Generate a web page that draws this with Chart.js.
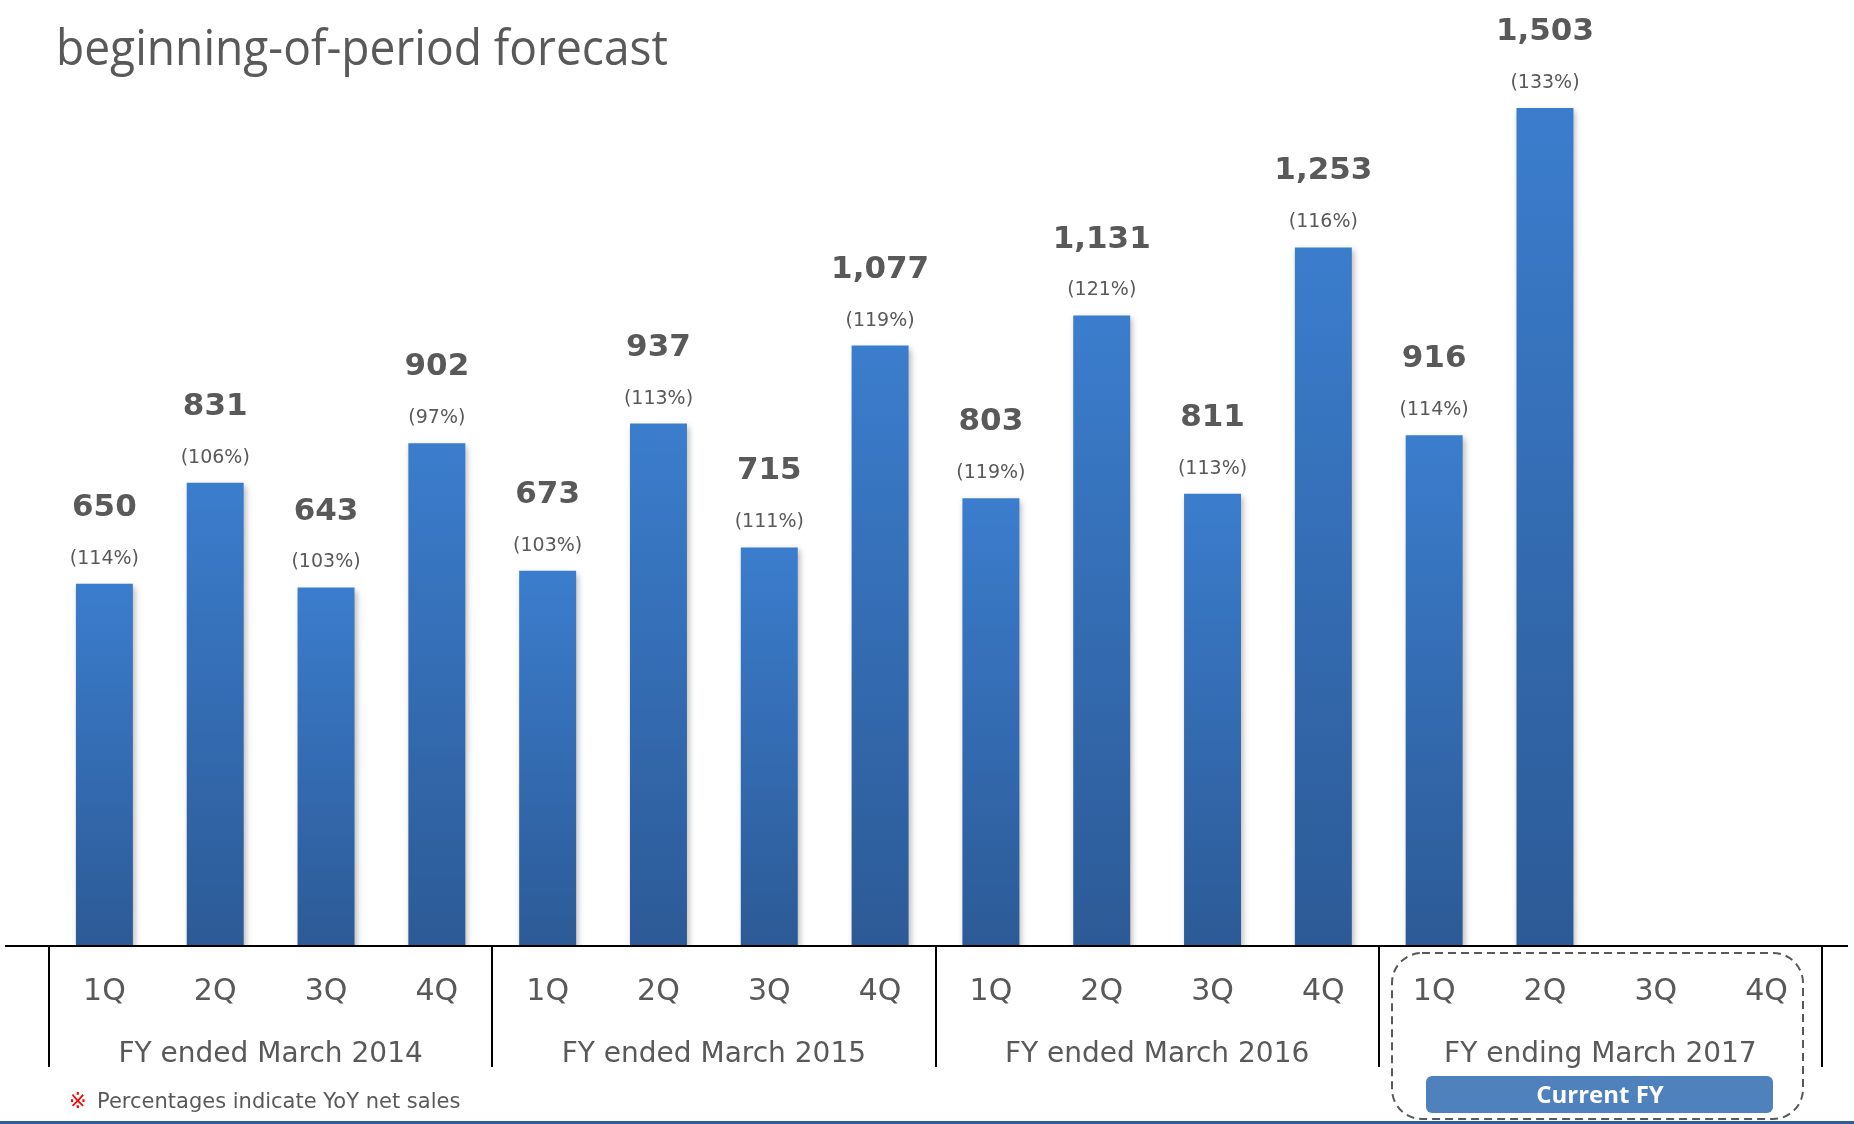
<!DOCTYPE html>
<html>
<head>
<meta charset="utf-8">
<script src="https://cdn.jsdelivr.net/npm/chart.js@4/dist/chart.umd.min.js"></script>
<style>
  html, body { margin: 0; padding: 0; background: #fff; }
  #wrap { width: 1854px; height: 1124px; position: relative; }
</style>
</head>
<body>
<div id="wrap"><canvas id="salesChart"></canvas></div>
<script>
// quarterly net sales (left to right), 3Q/4Q of FY2017 still open
var quarters = ['1Q', '2Q', '3Q', '4Q', '1Q', '2Q', '3Q', '4Q', '1Q', '2Q', '3Q', '4Q', '1Q', '2Q', '3Q', '4Q'];
var netSales = [650, 831, 643, 902, 673, 937, 715, 1077, 803, 1131, 811, 1253, 916, 1503, null, null];
var yoyPct   = [114, 106, 103, 97, 103, 113, 111, 119, 119, 121, 113, 116, 114, 133, null, null];
var fiscalYears = ['FY ended March 2014', 'FY ended March 2015', 'FY ended March 2016', 'FY ending March 2017'];

var grey = '#595959';

function barGradient(ctx) {
    var chart = ctx.chart;
    var v = ctx.raw;
    if (!chart.chartArea || v == null || !chart.scales.y) return '#3A7BCA';
    var y = chart.scales.y;
    var g = chart.ctx.createLinearGradient(0, y.getPixelForValue(v), 0, y.getPixelForValue(0));
    g.addColorStop(0, '#3B7DCD');
    g.addColorStop(1, '#2C5A96');
    return g;
}

var shadowPlugin = {
    id: 'barShadow',
    beforeDatasetsDraw: function (chart) {
        var c = chart.ctx;
        c.save();
        c.shadowColor = 'rgba(0,0,0,0.28)';
        c.shadowBlur = 6;
        c.shadowOffsetX = 2;
        c.shadowOffsetY = 3;
    },
    afterDatasetsDraw: function (chart) {
        chart.ctx.restore();
    }
};

var decoPlugin = {
    id: 'deco',
    afterDraw: function (chart) {
        var c = chart.ctx;
        var meta = chart.getDatasetMeta(0);
        var base = chart.scales.y.getPixelForValue(0);
        var xs = chart.scales.x;
        var step = xs.getPixelForValue(1) - xs.getPixelForValue(0);

        c.save();
        // title (second line, first line is cut off above)
        c.fillStyle = grey;
        c.font = '50px "Open Sans"';
        c.textBaseline = 'alphabetic';
        c.textAlign = 'left';
        var t = 'beginning-of-period forecast';
        var w = c.measureText(t).width;
        c.save();
        c.translate(56, 65);
        c.scale(612 / w, 1);
        c.fillText(t, 0, 0);
        c.restore();

        // value + yoy labels
        c.textAlign = 'center';
        c.textBaseline = 'middle';
        meta.data.forEach(function (bar, i) {
            if (netSales[i] == null) return;
            c.fillStyle = grey;
            c.font = 'bold 31px "DejaVu Sans"';
            c.fillText(netSales[i].toLocaleString('en-US'), bar.x, bar.y - 76);
            c.font = '19px "DejaVu Sans"';
            c.fillText('(' + yoyPct[i] + '%)', bar.x, bar.y - 25);
        });

        // axis line
        c.strokeStyle = '#000';
        c.lineWidth = 2;
        c.beginPath();
        c.moveTo(5, base);
        c.lineTo(1848, base);
        c.stroke();

        // group separators
        for (var g = 0; g <= 4; g++) {
            var sx = Math.round(xs.getPixelForValue(g * 4) - step / 2);
            c.beginPath();
            c.moveTo(sx, base);
            c.lineTo(sx, 1067);
            c.stroke();
        }

        // quarter labels
        c.fillStyle = grey;
        c.font = '30px "DejaVu Sans"';
        quarters.forEach(function (q, i) {
            c.fillText(q, xs.getPixelForValue(i), 992);
        });

        // fiscal year labels
        c.font = '28px "DejaVu Sans"';
        fiscalYears.forEach(function (fy, g) {
            var mx = (xs.getPixelForValue(g * 4) + xs.getPixelForValue(g * 4 + 3)) / 2;
            c.fillText(fy, mx, 1055);
        });

        // dashed box around current FY
        c.strokeStyle = grey;
        c.lineWidth = 2;
        c.setLineDash([8, 5]);
        c.beginPath();
        c.roundRect(1392, 953, 411, 166, 30);
        c.stroke();
        c.setLineDash([]);

        // current FY pill
        c.fillStyle = '#4F81BD';
        c.beginPath();
        c.roundRect(1426, 1076, 347, 37, 6);
        c.fill();
        c.fillStyle = '#fff';
        c.font = 'bold 24px "Open Sans"';
        c.fillText('Current FY', 1600, 1096);

        // footnote
        c.textAlign = 'left';
        c.fillStyle = '#FF0000';
        c.font = '21px "DejaVu Sans"';
        c.fillText('\u203B', 69, 1103);
        c.fillStyle = grey;
        c.fillText('Percentages indicate YoY net sales', 97, 1103);

        // bottom rule
        c.fillStyle = '#2F5C9A';
        c.fillRect(0, 1121, 1854, 3);
        c.restore();
    }
};

new Chart(document.getElementById('salesChart'), {
    type: 'bar',
    data: {
        labels: quarters,
        datasets: [{
            data: netSales,
            backgroundColor: barGradient,
            borderWidth: 0,
            barPercentage: 0.514,
            categoryPercentage: 1
        }]
    },
    options: {
        responsive: true,
        maintainAspectRatio: false,
        animation: false,
        layout: { padding: { top: 54, bottom: 178, left: 49, right: 32 } },
        plugins: { legend: { display: false }, tooltip: { enabled: false } },
        scales: {
            x: { display: false },
            y: { display: false, min: 0, max: 1600 }
        }
    },
    plugins: [shadowPlugin, decoPlugin]
});
</script>
</body>
</html>
